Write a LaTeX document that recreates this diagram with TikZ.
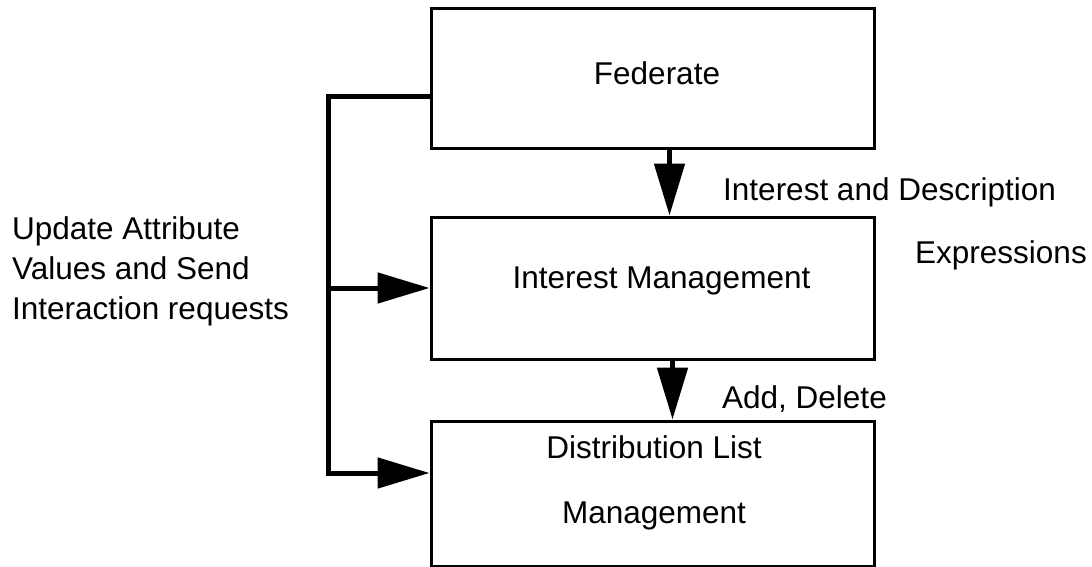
\documentclass[tikz,border=0pt]{standalone}
\usepackage{fontspec}
\setmainfont{Liberation Sans}
\usetikzlibrary{arrows.meta}
\begin{document}
\begin{tikzpicture}[x=1pt,y=-1pt,
    font=\fontsize{31.5}{38}\selectfont,
    block/.style={draw,line width=3pt,minimum width=443pt,inner sep=0pt},
    txt/.style={inner sep=0pt},
    flow/.style={line width=5pt,-{Triangle[length=52pt,width=30pt]}}]
      \useasboundingbox (0,0) rectangle (1092,567);
      % boxes
      \node[block,minimum height=140pt] (fed) at (652.5,79) {};
      \node[block,minimum height=142pt] (im) at (652.5,288) {};
      \node[block,minimum height=145pt] (dlm) at (652.5,493.5) {};
      % box texts
      \node[txt,anchor=base] (fedtxt) at (657,85) {Federate};
      \node[txt,anchor=base] (imtxt) at (661.5,288) {Interest Management};
      \node[txt,align=center] (dlmtxt) at (654,483)
        {Distribution List\\[27pt]Management};
      % side texts
      \node[txt,anchor=base west] (ide) at (723,200) {Interest and Description};
      \node[txt,anchor=base west] (expr) at (915,263) {Expressions};
      \node[txt,anchor=base west] (adddel) at (722,408) {Add, Delete};
      \node[txt,anchor=west,align=left,font=\fontsize{31.5}{40}\selectfont] (upd) at (12,271)
        {Update Attribute\\Values and Send\\Interaction requests};
      \coordinate (dlmin) at ([yshift=20.5pt]dlm.west);
      \begin{scope}[flow]
        \draw ([xshift=17pt]fed.south) to ([xshift=17pt]im.north);
        \draw ([xshift=20pt]im.south) to ([xshift=20pt]dlm.north);
        \draw ([yshift=-18pt]fed.west) -| ([xshift=-101pt]dlmin) -- (dlmin);
        \draw ([xshift=-101pt]im.west) to (im.west);
      \end{scope}
    \end{tikzpicture}
\end{document}
